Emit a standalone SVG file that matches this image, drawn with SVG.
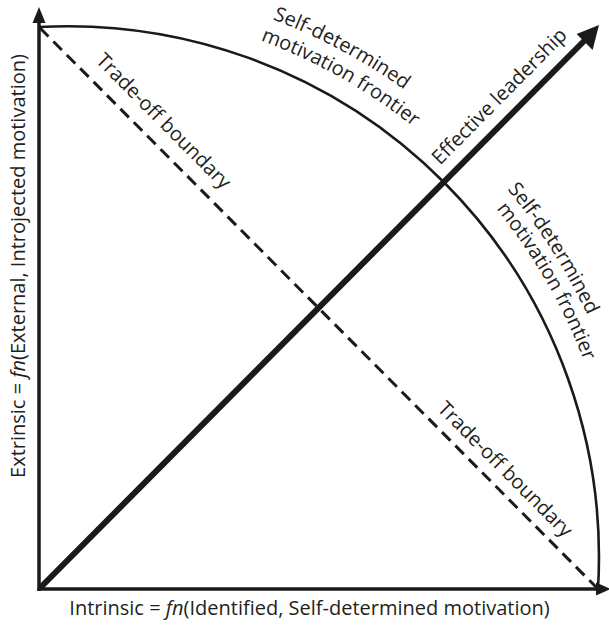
<svg xmlns="http://www.w3.org/2000/svg" width="609" height="625" viewBox="0 0 609 625">
<style>
.t{font-family:"Open Sans","Noto Sans","DejaVu Sans",sans-serif;font-size:20px;fill:#231f20}
.ax{stroke:#1a1a1a;stroke-width:3.5;fill:none}
.hd{fill:#1a1a1a}
</style>
<defs>
<path id="pTop1" d="M151,-12.1 A575,575 0 0 1 497.7,173.7"/>
<path id="pTop2" d="M159.9,13.6 A551,551 0 0 1 488,199.2"/>
<path id="pR1" d="M417.2,103.2 A572,572 0 0 1 627.4,433.2"/>
<path id="pR2" d="M423.2,134.9 A551,551 0 0 1 611.6,461.3"/>
</defs>
<rect width="609" height="625" fill="#fff"/>
<g id="connectors">
<g id="y-axis"><line class="ax" x1="39" y1="591" x2="39" y2="20"/><polygon class="hd" points="39,7 32.5,23 45.5,23"/></g>
<g id="x-axis"><line class="ax" x1="37.5" y1="589" x2="598" y2="589"/><polygon class="hd" points="611,589 596,582.5 596,595.5"/></g>
<g id="frontier"><path d="M39,27 A531,531 0 0 1 598,589" fill="none" stroke="#1a1a1a" stroke-width="2.6"/></g>
<g id="tradeoff"><line x1="40" y1="28" x2="597" y2="588" stroke="#1a1a1a" stroke-width="3" stroke-dasharray="12 7"/></g>
<g id="leadership"><line x1="40" y1="588" x2="585" y2="40" stroke="#1a1a1a" stroke-width="6"/><polygon class="hd" points="599,25 592.6,50 576.6,34"/></g>
</g>
<g id="label-y"><text class="t" transform="translate(25,266) rotate(-90)" text-anchor="middle">Extrinsic = <tspan font-style="italic">fn</tspan>(External, Introjected motivation)</text></g>
<g id="label-x"><text class="t" x="309.5" y="615" text-anchor="middle">Intrinsic = <tspan font-style="italic">fn</tspan>(Identified, Self-determined motivation)</text></g>
<g id="label-tradeoff-1"><text class="t" transform="translate(158.8,125.8) rotate(45.15)" text-anchor="middle">Trade-off boundary</text></g>
<g id="label-tradeoff-2"><text class="t" transform="translate(500.5,474) rotate(45.15)" text-anchor="middle">Trade-off boundary</text></g>
<g id="label-leadership"><text class="t" transform="translate(504,101) rotate(-45.25)" text-anchor="middle">Effective leadership</text></g>
<g id="label-frontier-top"><text class="t" text-anchor="middle"><textPath href="#pTop1" startOffset="50%">Self-determined</textPath></text><text class="t" text-anchor="middle"><textPath href="#pTop2" startOffset="50%">motivation frontier</textPath></text></g>
<g id="label-frontier-right"><text class="t" text-anchor="middle"><textPath href="#pR1" startOffset="50%">Self-determined</textPath></text><text class="t" text-anchor="middle"><textPath href="#pR2" startOffset="50%">motivation frontier</textPath></text></g>
</svg>
